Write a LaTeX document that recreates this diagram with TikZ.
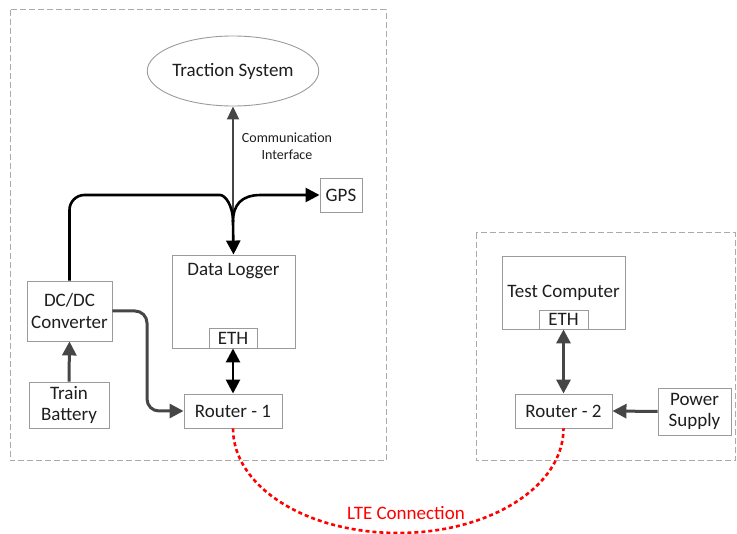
\documentclass[tikz,border=0pt]{standalone}
\usepackage{fontspec}
\setmainfont{Carlito}
\usetikzlibrary{arrows.meta, shapes.geometric, positioning}
\definecolor{boxgray}{RGB}{155,155,155}
\definecolor{framegray}{RGB}{170,170,170}
\definecolor{linegray}{RGB}{70,70,70}
\definecolor{txtgray}{RGB}{30,30,30}
\definecolor{lteRed}{RGB}{255,0,0}

\begin{document}
\begin{tikzpicture}[x=1pt, y=-1pt, >={Triangle[length=14pt,width=14pt]},
	box/.style={draw=boxgray, line width=0.9pt, text=txtgray, align=center, inner sep=0pt, font=\fontsize{19}{21.5}\selectfont},
	txt/.style={text=txtgray, align=center, font=\fontsize{19}{21.5}\selectfont},
	frame/.style={draw=framegray, line width=1pt, dash pattern=on 6pt off 3pt},
	blackline/.style={line width=2.6pt, black},
	greyline/.style={line width=3pt, linegray},
	lte/.style={draw=lteRed, line width=2.6pt, dash pattern=on 4pt off 3pt}]
	\useasboundingbox (0,0) rectangle (737,534);
	
	% 1. 两个虚线边框（车上 / 地面）
	\draw[frame] (10,10) rectangle (386,461);
	\draw[frame] (476,233) rectangle (735,461);
	
	% 2. 车上设备
	\node[box, ellipse, minimum width=160, minimum height=70] (trac) at (233,71) {Traction System};
	\node[box, minimum width=123, minimum height=93] (logger) at (233.5,301.5) {};
	\node[txt, below=5pt of logger.north] (loggertxt) {Data Logger};
	\node[box, minimum width=48, minimum height=20] (eth1) at (233,338) {ETH};
	\node[box, minimum width=42, minimum height=34] (gps) at (341,195) {GPS};
	\node[box, minimum width=85, minimum height=60] (conv) at (69.5,311) {DC/DC\\Converter};
	\node[box, minimum width=80, minimum height=46] (batt) at (69,405) {Train\\Battery};
	\node[box, minimum width=98, minimum height=34] (r1) at (233,411) {Router - 1};
	\node[txt, font=\fontsize{14}{16.5}\selectfont] (comm) at (287,146) {Communication\\Interface};
	
	% 3. 地面设备
	\node[box, minimum width=123, minimum height=73] (comp) at (563.5,292.5) {Test Computer};
	\node[box, minimum width=49, minimum height=19] (eth2) at (563.5,319.5) {ETH};
	\node[box, minimum width=97, minimum height=34] (r2) at (563.5,411) {Router - 2};
	\node[box, minimum width=73, minimum height=47] (pwr) at (694.5,411.5) {Power\\Supply};
	
	% 辅助点
	\coordinate (J) at (233,222);
	\coordinate (bend) at (147,411);
	\coordinate (lteLow) at (398,533);
	
	% 4. 连接线
	\draw[greyline, line width=2pt, -{Triangle[length=13pt,width=12pt]}] (J) -- (trac.south);
	\draw[blackline, ->] (conv.north) [rounded corners=15] |- (205,195) [sharp corners] .. controls (225,195) and (233,205) .. (J) -- (logger.north);
	\draw[blackline, ->] (J) .. controls (233,205) and (241,195) .. (261,195) -- (gps.west);
	\draw[blackline, <->] (eth1.south) -- (r1.north);
	\draw[greyline, ->] (batt.north) -- (conv.south);
	\draw[greyline, ->, rounded corners=12] (conv.east) -| (bend) -- (r1.west);
	\draw[greyline, <->] (eth2.south) -- (r2.north);
	\draw[greyline, ->] (pwr.west) -- (r2.east);
	
	% 5. LTE 无线连接
	\draw[lte] (r1.south) .. controls +(0,58) and +(-92,0) .. (lteLow) .. controls +(92,0) and +(0,58) .. (r2.south);
	\node[txt, text=lteRed] (ltetxt) at (406,513) {LTE Connection};
	
\end{tikzpicture}
\end{document}
